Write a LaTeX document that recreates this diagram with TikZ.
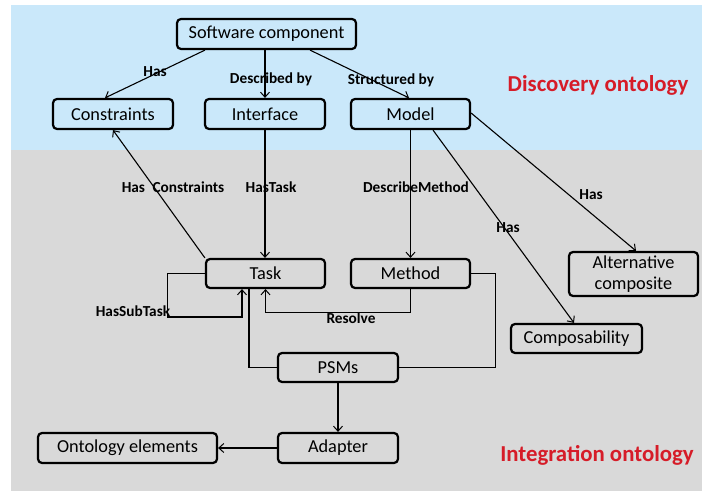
\documentclass[tikz,border=0pt]{standalone}
\usepackage{fontspec}
\setmainfont{Carlito}
\usetikzlibrary{arrows.meta}
\definecolor{bgblue}{RGB}{202,232,250}
\definecolor{bggrey}{RGB}{217,217,217}
\definecolor{lblred}{RGB}{214,28,40}
\begin{document}
\begin{tikzpicture}[x=1pt,y=-1pt,
  box/.style={draw=black, line width=2.2pt, rounded corners=4pt, inner sep=0pt,
    minimum height=30pt, align=center, font=\fontsize{18.3}{21}\selectfont},
  lbl/.style={font=\bfseries\fontsize{15.3}{17}\selectfont, inner sep=0pt},
  big/.style={font=\bfseries\fontsize{22.8}{26}\selectfont, text=lblred, inner sep=0pt},
  conn/.style={line width=1.1pt},
  arr/.style={conn, -{Straight Barb[length=5pt,width=9pt,line width=1pt]}}]
\useasboundingbox (0,0) rectangle (702,494);
\fill[bgblue] (11,5) rectangle (702,150);
\fill[bggrey] (11,150) rectangle (702,491);

\node[box, minimum width=179pt] (sc) at (266.5,34) {Software component};
\node[box, minimum width=120pt] (con) at (113,114) {Constraints};
\node[box, minimum width=120pt] (intf) at (265,114) {Interface};
\node[box, minimum width=119pt] (model) at (410.5,114) {Model};
\node[box, minimum width=119pt, minimum height=29pt] (task) at (265.5,273.5) {Task};
\node[box, minimum width=119pt, minimum height=29pt] (method) at (410.5,273.5) {Method};
\node[box, minimum width=129pt, minimum height=44pt, font=\fontsize{18.3}{21}\selectfont] (alt) at (633.5,274) {Alternative\\composite};
\node[box, minimum width=131pt, minimum height=29pt] (comp) at (576.5,338.5) {Composability};
\node[box, minimum width=120pt, minimum height=29pt] (psms) at (338,367.5) {PSMs};
\node[box, minimum width=120pt] (adapter) at (338,448) {Adapter};
\node[box, minimum width=179pt] (onto) at (127.5,448) {Ontology elements};

\node[big] (disc) at (598,85) {Discovery ontology};
\node[big] (integ) at (597,455) {Integration ontology};

\draw[arr] ([xshift=-61.5pt]sc.south) -- ([xshift=-8pt]con.north);
\draw[arr] ([xshift=-1.5pt]sc.south) -- (intf.north);
\draw[arr] ([xshift=43.5pt]sc.south) -- ([xshift=-1.5pt]model.north);
\draw[arr] (task.north west) -- (con.south);
\draw[arr] (intf.south) -- ([xshift=-0.5pt]task.north);
\draw[arr] (model.south) -- (method.north);
\draw[arr] ([xshift=22.5pt]model.south) -- ([xshift=-2.5pt]comp.north);
\draw[arr] ([yshift=1pt]model.east) -- ([xshift=2.5pt]alt.north);
\draw[arr] (task.west) -- ++(-37,0) -- ++(0,43.5) -| ([xshift=-23.5pt]task.south);
\draw[arr] (method.south) -- ++(0,23.5) -| (task.south);
\draw[conn] (psms.west) -| ([xshift=-16.5pt]task.south);
\draw[conn] (psms.east) -- ++(96,0) |- (method.east);
\draw[arr] (psms.south) -- (adapter.north);
\draw[arr] (adapter.west) -- (onto.east);

\node[lbl] (l1) at (155,72) {Has};
\node[lbl] (l2) at (271,79) {Described by};
\node[lbl] (l3) at (391,80) {Structured by};
\node[lbl] (l4) at (173,187) {Has\hspace{4pt} Constraints};
\node[lbl] (l5) at (271,187) {HasTask};
\node[lbl] (l6) at (416,187) {DescribeMethod};
\node[lbl] (l7) at (508,228) {Has};
\node[lbl] (l8) at (591,195) {Has};
\node[lbl] (l9) at (133,311) {HasSubTask};
\node[lbl] (l10) at (351,318) {Resolve};
\end{tikzpicture}
\end{document}
